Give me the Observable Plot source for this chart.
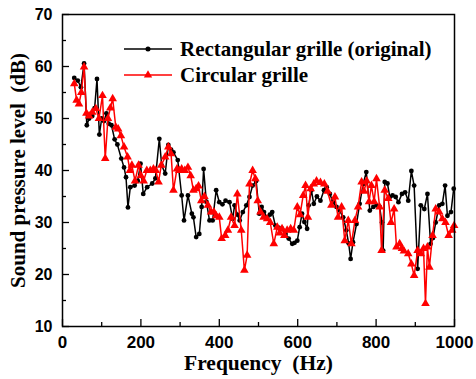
<!DOCTYPE html>
<html>
<head>
<meta charset="utf-8">
<script src="https://cdn.jsdelivr.net/npm/d3@7"></script>
<script src="https://cdn.jsdelivr.net/npm/@observablehq/plot@0.6"></script>
<style>
  html, body { margin: 0; padding: 0; background: #fff; }
  #chart { width: 476px; height: 379px; }
</style>
</head>
<body>
<div id="chart"></div>
<script>
const seriesNames = ["Rectangular grille (original)", "Circular grille"];
const xTicks = [0, 200, 400, 600, 800, 1000];
const xMinorTicks = [100, 300, 500, 700, 900];
const yTicks = [10, 20, 30, 40, 50, 60, 70];
const yMinorTicks = [15, 25, 35, 45, 55, 65];

const rectFreq = [30,39,47,55,62,68,76,82,88,94,100,106,112,118,125,133,140,150,157,162,167,173,184,192,199,206,216,229,237,247,253,262,270,277,283,294,304,310,320,330,334,341,349,355,360,367,375,383,392,400,408,416,426,434,439,446,452,460,469,477,485,494,502,508,514,522,529,535,543,551,560,569,577,586,592,599,605,611,617,624,628,635,641,649,658,667,674,682,690,699,707,716,724,730,735,741,750,758,767,775,784,793,801,809,815,818,822,829,835,842,850,857,866,874,882,890,897,906,914,923,931,939,945,952,961,969,976,982,991,998];
const rectDb = [57.8,57.3,56,60.6,48.7,50,50.5,52,57.6,46.9,50,49.5,51,49,48.7,46,45,42.3,40.6,38.7,32.9,36.8,37.1,38,41.3,35.5,36.8,37.5,38.5,46.1,41,39.4,44.9,44,43.5,42,35.2,30.4,35.2,31.7,31,27.2,27.8,33,40.3,34,30.4,30.4,36.2,33.9,33.5,34.2,33.9,30.7,33.3,31.5,30.4,32,33.3,34.9,37.1,38,31.7,33,32,31,31.5,32,29.4,29,28.8,27.8,26.9,25.9,26.1,26.5,29.1,31.7,30.1,28.8,33.3,36.2,33.6,35,34.2,36.2,36.8,35.5,33.9,33,32.3,31,28.5,26,23,26.2,29.7,33.6,37.4,39.7,32.3,33,33.3,33,30,24.6,37.8,37.5,34.9,35.2,34.9,33.9,35.5,35.8,34.2,39.9,37.1,21.1,33.3,32.6,35.5,25.9,27,30,33.3,33.6,37.1,31.3,32,36.5];

const circFreq = [30,36,42,48,55,61,68,76,85,93,102,109,116,122,128,136,142,149,157,166,172,177,185,194,200,207,215,224,232,238,245,252,262,270,277,283,292,298,304,312,320,327,334,341,347,354,362,371,379,386,392,400,406,415,422,430,439,446,456,464,471,477,485,492,498,505,513,522,530,539,548,554,560,566,573,582,590,599,606,614,620,626,633,641,648,658,668,676,686,695,703,712,720,729,737,746,754,763,769,776,782,788,795,801,809,814,822,831,838,846,852,860,866,871,882,890,897,906,914,921,926,931,936,944,952,961,969,977,985,994,999];
const circDb = [56.7,53.5,52.8,55,59.9,51,50.5,51.2,51.9,50,54.4,42.3,50,52,53.8,48.3,48,46.7,44.5,42.6,40,41,38,41,39,38,40,40,40.3,40,37.8,41,42.6,44.5,43.2,36.2,40.3,40,40.3,40,40.6,39,36.2,36.5,37,34.2,35,33.3,32,32,31.3,31,26.9,27.5,28.5,31,29.4,35.5,28.5,20.8,23.7,37.4,40,38.4,34.2,32,31,30.7,30,25.9,29.1,28,28.8,27.5,28.5,28.8,28.5,33,31.5,35.2,37.1,31,36.5,37.4,38,37.7,37.4,36,33.3,34.9,31,33,26.5,30.4,25.9,30.4,33,37.8,36,38,34,37.1,34,38.4,33,24.6,36.2,34.6,30,32.6,25.3,25.9,25,24.5,24,22,19.8,24.6,24,25,14.4,25.3,21.4,27.5,32.6,32,30.7,30,27.5,28.5,29.4];

const rect = rectFreq.map((f, i) => ({f, v: rectDb[i]}));
const circ = circFreq.map((f, i) => ({f, v: circDb[i]}));

const sans = "'Liberation Sans', Arial, sans-serif";
const serif = "'Liberation Serif', 'Times New Roman', serif";
const RED = "#f00";

const chart = Plot.plot({
  width: 476,
  height: 379,
  marginLeft: 62,
  marginRight: 22,
  marginTop: 14,
  marginBottom: 53,
  style: {background: "#fff", color: "#000"},
  x: {domain: [0, 1000], label: null},
  y: {domain: [10, 70], label: null},
  marks: [
    Plot.axisX(xTicks, {tickSize: -7, text: null, strokeWidth: 1.3, label: null}),
    Plot.axisX(xMinorTicks, {tickSize: -4, text: null, strokeWidth: 1.3, label: null}),
    Plot.axisX(xTicks, {tickSize: 0, tickPadding: 9, tickFormat: d => String(d), fontSize: 17, fontWeight: "bold", fontFamily: sans, label: null}),
    Plot.axisY(yTicks, {tickSize: -7, text: null, strokeWidth: 1.3, label: null}),
    Plot.axisY(yMinorTicks, {tickSize: -4, text: null, strokeWidth: 1.3, label: null}),
    Plot.axisY(yTicks, {tickSize: 0, tickPadding: 10, tickFormat: d => String(d), fontSize: 16, fontWeight: "bold", fontFamily: sans, label: null}),
    Plot.line(rect, {x: "f", y: "v", stroke: "#000", strokeWidth: 1.5}),
    Plot.dot(rect, {x: "f", y: "v", r: 2.4, fill: "#000", stroke: "none"}),
    Plot.line(circ, {x: "f", y: "v", stroke: RED, strokeWidth: 1.5}),
    Plot.dot(circ, {x: "f", y: "v", symbol: "triangle", r: 3.2, fill: RED, stroke: "none"}),
    Plot.frame({stroke: "#000", strokeWidth: 1.5}),
    Plot.text(["Frequency  (Hz)"], {frameAnchor: "bottom", dy: 43, textAnchor: "middle", fontSize: 21.5, fontWeight: "bold", fontFamily: serif, fill: "#000"}),
    Plot.text(["Sound pressure level  (dB)"], {frameAnchor: "left", dx: -44, textAnchor: "middle", rotate: -90, fontSize: 21, fontWeight: "bold", fontFamily: serif, fill: "#000"})
  ]
});

// legend inside the frame
const svg = d3.select(chart);
const legend = svg.append("g").attr("class", "legend");
const entries = [
  {name: seriesNames[0], color: "#000", sym: d3.symbolCircle, size: 20, y: 49},
  {name: seriesNames[1], color: RED, sym: d3.symbolTriangle, size: 30, y: 75}
];
entries.forEach(e => {
  legend.append("line").attr("x1", 124).attr("x2", 172).attr("y1", e.y).attr("y2", e.y)
    .attr("stroke", e.color).attr("stroke-width", 1.6);
  legend.append("path").attr("d", d3.symbol(e.sym, e.size)()).attr("transform", `translate(148,${e.y})`)
    .attr("fill", e.color);
  legend.append("text").attr("x", 180).attr("y", e.y).attr("dy", "0.35em")
    .attr("text-anchor", "start")
    .attr("font-family", serif).attr("font-weight", "bold").attr("font-size", 21)
    .attr("fill", "#000").text(e.name);
});

document.getElementById("chart").appendChild(chart);
</script>
</body>
</html>
